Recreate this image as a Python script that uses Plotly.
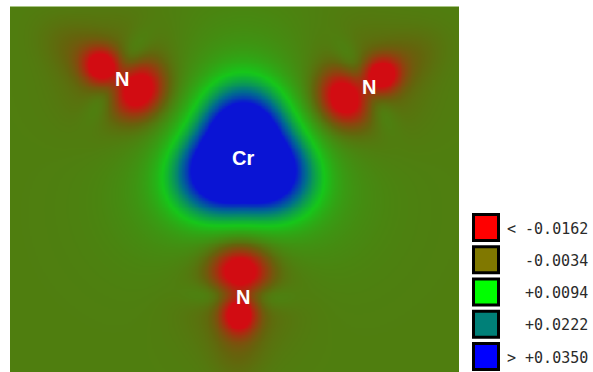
import numpy as np
import plotly.graph_objects as go

# ---- atoms of the section plane (Å, Cr at origin) ----
atom_labels = ["Cr", "N", "N", "N"]
atom_x = [0.0, -1.793, 1.736, -0.057]
atom_y = [0.0, 1.164, 1.043, -1.957]

# ---- deformation density model parameters (e/Å^3) ----
# Cr: trigonally distorted density, lobes staggered between the Cr-N bonds
cr_amp = [0.094, 0.008]
cr_sig = [0.467, 0.95]
cr_trig_eps = 0.11
cr_trig_phase_deg = 90

# N: lobes along the N->Cr axis (offset > 0 means towards Cr)
n_lobe_offset = [0.357, -0.27, -0.65, 0.05]
n_lobe_amp = [-0.020, -0.019, -0.003, -0.004]
n_lobe_sig_par = [0.23, 0.19, 0.40, 0.55]
n_lobe_sig_perp = [0.27, 0.17, 0.25, 0.55]
# N: weak positive channels perpendicular to the bond
n_side_offset_perp = 0.30
n_side_amp = 0.004
n_side_sig_par = 0.14
n_side_sig_perp = 0.30

# ---- legend levels ----
level_labels = ["< -0.0162", "-0.0034", "+0.0094", "+0.0222", "> +0.0350"]
level_values = [-0.0162, -0.0034, 0.0094, 0.0222, 0.0350]
level_colors = ["#ff0000", "#807800", "#00ff00", "#008078", "#0000ff"]

x_range = [-3.329, 3.086]
y_range = [-3.057, 2.171]

W, H = 593, 372
LABEL_SHIFT_N = (4, -2)  # px offset of the N labels from the nuclei


def gauss(X, Y, cx, cy, ux, uy, amp, s_par, s_perp):
    dx, dy = X - cx, Y - cy
    p = dx * ux + dy * uy
    q = -dx * uy + dy * ux
    return amp * np.exp(-0.5 * ((p / s_par) ** 2 + (q / s_perp) ** 2))


xs = np.linspace(x_range[0] - 0.05, x_range[1] + 0.05, 320)
ys = np.linspace(y_range[0] - 0.05, y_range[1] + 0.05, 260)
X, Y = np.meshgrid(xs, ys)
Z = np.zeros_like(X)

crx, cry = atom_x[0], atom_y[0]
R = np.hypot(X - crx, Y - cry)
TH = np.arctan2(Y - cry, X - crx)
stretch = 1 + cr_trig_eps * np.cos(3 * (TH - np.radians(cr_trig_phase_deg)))
for a, s in zip(cr_amp, cr_sig):
    Z += a * np.exp(-0.5 * (R / (s * stretch)) ** 2)

for nx, ny in zip(atom_x[1:], atom_y[1:]):
    vx, vy = crx - nx, cry - ny
    d = np.hypot(vx, vy)
    ux, uy = vx / d, vy / d
    for off, a, sp, sq in zip(n_lobe_offset, n_lobe_amp, n_lobe_sig_par, n_lobe_sig_perp):
        Z += gauss(X, Y, nx + off * ux, ny + off * uy, ux, uy, a, sp, sq)
    for sgn in (-1, 1):
        Z += gauss(X, Y, nx - sgn * n_side_offset_perp * uy, ny + sgn * n_side_offset_perp * ux,
                   ux, uy, n_side_amp, n_side_sig_par, n_side_sig_perp)

zmin, zmax = level_values[0], level_values[-1]
colorscale = [
    [0.00, "rgb(210,12,18)"],
    [0.25, "rgb(100,100,12)"],
    [0.50, "rgb(22,198,25)"],
    [0.75, "rgb(0,110,140)"],
    [1.00, "rgb(10,20,212)"],
]

fig = go.Figure(go.Heatmap(
    x=xs, y=ys, z=np.round(Z, 5), zmin=zmin, zmax=zmax,
    colorscale=colorscale, zsmooth="best", showscale=False, hoverinfo="skip",
))

# atom labels
for lab, ax_, ay_ in zip(atom_labels, atom_x, atom_y):
    sx, sy = LABEL_SHIFT_N if lab == "N" else (0, 0)
    fig.add_annotation(x=ax_, y=ay_, text=f"<b>{lab}</b>", showarrow=False,
                       xshift=sx, yshift=sy,
                       font=dict(family="Liberation Sans, Arial", size=20, color="white"),
                       xanchor="center", yanchor="middle")

# legend: colored boxes with level values
shapes = []
box_top0, box_step, box_h, box_x0, box_x1 = 213, 32.25, 29, 472, 500
for i, (lab, col) in enumerate(zip(level_labels, level_colors)):
    top = box_top0 + i * box_step
    shapes.append(dict(type="rect", xref="paper", yref="paper",
                       x0=(box_x0 + 1.5) / W, x1=(box_x1 - 1.5) / W,
                       y0=1 - (top + 1.5) / H, y1=1 - (top + box_h - 1.5) / H,
                       fillcolor=col, line=dict(color="black", width=3)))
    fig.add_annotation(xref="paper", yref="paper", x=590 / W, y=1 - (top + box_h / 2 + 1) / H,
                       text=lab, showarrow=False, xanchor="right", yanchor="middle",
                       font=dict(family="DejaVu Sans Mono", size=15, color="#2a2a2a"))

# thin light rim along the top of the map
shapes.append(dict(type="line", xref="paper", yref="paper",
                   x0=10 / W, x1=459 / W, y0=1 - 6.5 / H, y1=1 - 6.5 / H,
                   line=dict(color="rgba(190,215,160,0.8)", width=1)))

fig.update_layout(
    width=W, height=H, margin=dict(l=0, r=0, t=0, b=0),
    paper_bgcolor="white", plot_bgcolor="white",
    xaxis=dict(domain=[10 / W, 459 / W], range=x_range, visible=False, fixedrange=True),
    yaxis=dict(domain=[0, 366 / H], range=y_range, visible=False, fixedrange=True),
    shapes=shapes, showlegend=False,
)

fig.write_html("out.html")
